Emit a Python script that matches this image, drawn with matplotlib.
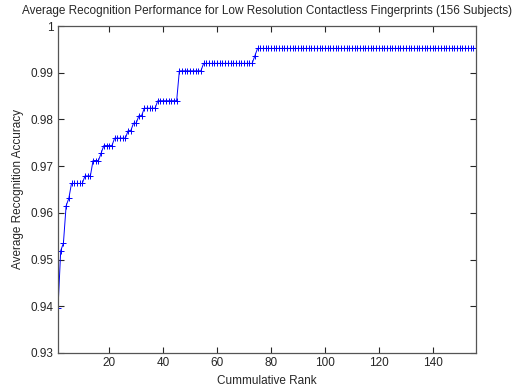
import numpy as np
import matplotlib
matplotlib.use('Agg')
import matplotlib.pyplot as plt

plt.rcParams['font.family'] = ['Liberation Sans', 'DejaVu Sans']

# step levels of the CMC curve and the rank where each level starts
level_start = [1, 2, 3, 4, 5, 6, 11, 14, 17, 18, 22, 27, 29, 31, 33, 38, 46, 55, 74, 75]
level_acc = [0.9397, 0.9519, 0.9535, 0.9615, 0.9631, 0.9663, 0.9679, 0.9712, 0.9728,
             0.9744, 0.9760, 0.9776, 0.9792, 0.9808, 0.9824, 0.9840, 0.9904, 0.9920,
             0.9936, 0.9952]
n_subjects = 156

ranks = np.arange(1, n_subjects + 1)
counts = np.diff(level_start + [n_subjects + 1])
acc = np.repeat(level_acc, counts)

fig = plt.figure(figsize=(5.19, 3.87), dpi=100)
ax = fig.add_axes([0.1118, 0.0879, 0.8052, 0.8449])
ax.plot(ranks, acc, color='#0000ff', linewidth=0.7, marker='+', markersize=4,
        markeredgewidth=0.7)

ax.set_xlim(1, 156)
ax.set_ylim(0.93, 1)
ax.set_xticks(np.arange(20, 141, 20))
yt = [0.93, 0.94, 0.95, 0.96, 0.97, 0.98, 0.99, 1]
ax.set_yticks(yt)
ax.set_yticklabels(['0.93', '0.94', '0.95', '0.96', '0.97', '0.98', '0.99', '1'])
ax.tick_params(direction='in', length=4, width=0.8, top=True, right=True,
               labelsize=8.5, colors='#262626', pad=3)
for s in ax.spines.values():
    s.set_color('#555555')
    s.set_linewidth(0.9)

ax.set_title('Average Recognition Performance for Low Resolution Contactless Fingerprints (156 Subjects)',
             fontsize=8.5, color='#262626', pad=9)
ax.set_xlabel('Cummulative Rank', fontsize=8.5, color='#262626', labelpad=4)
ax.set_ylabel('Average Recognition Accuracy', fontsize=8.5, color='#262626', labelpad=5)

fig.savefig('out.png', dpi=100)
